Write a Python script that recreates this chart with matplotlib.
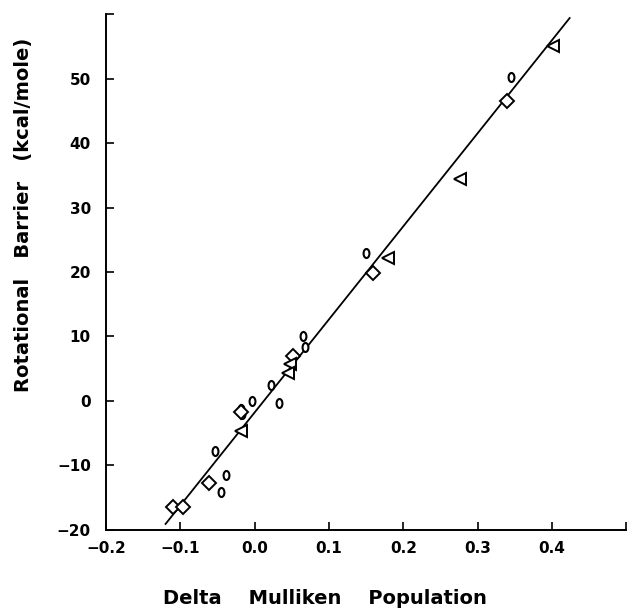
import numpy as np
import matplotlib.pyplot as plt
from matplotlib.path import Path

# delta Mulliken population vs rotational barrier, three series
circle_x = [-0.045, -0.038, -0.053, -0.003, 0.022, 0.033, 0.065, 0.068,
            0.150, 0.345, -0.019, -0.017]
circle_y = [-14.1, -11.5, -7.8, 0.0, 2.5, -0.4, 10.0, 8.3,
            22.9, 50.2, -1.3, -2.1]

diamond_x = [-0.110, -0.097, -0.061, -0.018, 0.052, 0.159, 0.339]
diamond_y = [-16.4, -16.5, -12.7, -1.7, 7.0, 19.8, 46.5]

triangle_x = [-0.018, 0.048, 0.045, 0.180, 0.276, 0.401]
triangle_y = [-4.6, 5.7, 4.3, 22.1, 34.4, 55.0]

# least squares line as drawn
fit_x = [-0.120, 0.424]
fit_y = [-19.1, 59.4]

x_ticks = [-0.2, -0.1, 0.0, 0.1, 0.2, 0.3, 0.4, 0.5]
x_labels = ['\u22120.2', '\u22120.1', '0.0', '0.1', '0.2', '0.3', '0.4', '']
y_ticks = [-20, -10, 0, 10, 20, 30, 40, 50, 60]
y_labels = ['\u221220', '\u221210', '0', '10', '20', '30', '40', '50', '']

# tall narrow ellipse for the "o" marks
ell = Path.unit_circle()
ellipse = Path(ell.vertices * np.array([0.65, 1.0]), ell.codes)

fig = plt.figure(figsize=(6.28, 6.16), dpi=100)
ax = fig.add_axes([0.169, 0.140, 0.828, 0.837])

ax.plot(fit_x, fit_y, color='black', linewidth=1.3)
ax.plot(circle_x, circle_y, linestyle='none', marker=ellipse, markersize=6.5,
        markerfacecolor='white', markeredgecolor='black', markeredgewidth=1.5)
ax.plot(diamond_x, diamond_y, linestyle='none', marker='D', markersize=7,
        markerfacecolor='white', markeredgecolor='black', markeredgewidth=1.4)
ax.plot(triangle_x, triangle_y, linestyle='none', marker='<', markersize=8,
        markerfacecolor='white', markeredgecolor='black', markeredgewidth=1.4)

ax.set_xlim(-0.2, 0.5)
ax.set_ylim(-20, 60)
ax.spines['top'].set_visible(False)
ax.spines['right'].set_visible(False)
for s in ('left', 'bottom'):
    ax.spines[s].set_linewidth(1.4)

ax.set_xticks(x_ticks, labels=x_labels)
ax.set_yticks(y_ticks, labels=y_labels)
ax.tick_params(direction='in', length=6, width=1.2, labelsize=11)
ax.tick_params(axis='x', pad=8)
ax.tick_params(axis='y', pad=11)
for lab in ax.get_xticklabels() + ax.get_yticklabels():
    lab.set_fontweight('bold')

ax.set_xlabel('Delta    Mulliken    Population', fontsize=14, fontweight='bold')
ax.set_ylabel('Rotational   Barrier   (kcal/mole)', fontsize=14,
              fontweight='bold')
ax.xaxis.set_label_coords(0.42, -0.114)
ax.yaxis.set_label_coords(-0.140, 0.61)

plt.savefig('out.png', dpi=100)
